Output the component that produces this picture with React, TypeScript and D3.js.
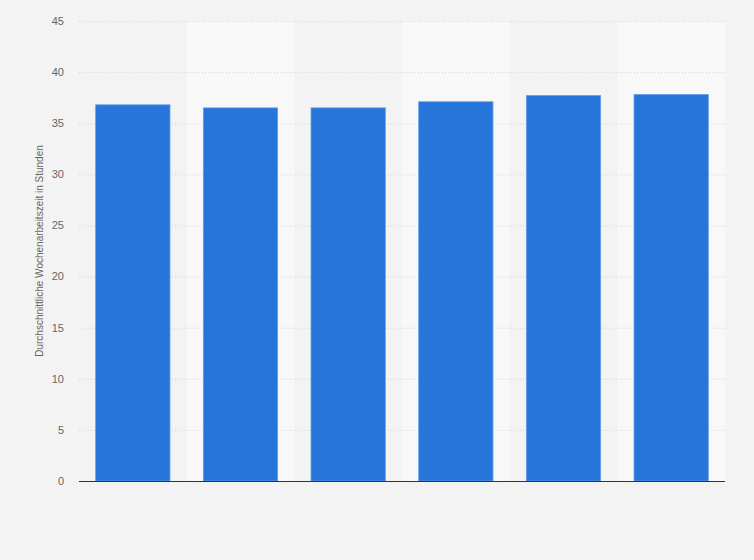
import * as d3 from 'd3';

// values (no category labels shown in the reference)
const categories = ['A', 'B', 'C', 'D', 'E', 'F'];
const hours = [36.8, 36.5, 36.5, 37.1, 37.7, 37.8];
const yTicks = [0, 5, 10, 15, 20, 25, 30, 35, 40, 45];
const yLabel = 'Durchschnittliche Wochenarbeitszeit in Stunden';

const width = 754;
const height = 560;
const margin = { top: 21, right: 29, bottom: 79, left: 79 };

export default function App(): JSX.Element {
  const x = d3.scaleBand<string>()
    .domain(categories)
    .range([margin.left, width - margin.right])
    .paddingInner(0.31)
    .paddingOuter(0.155);

  // bands without padding, for the alternating background stripes
  const stripes = d3.scaleBand<string>()
    .domain(categories)
    .range([margin.left, width - margin.right]);

  const y = d3.scaleLinear()
    .domain([0, 45])
    .range([height - margin.bottom, margin.top]);

  return (
    <div style={{ position: 'absolute', left: 0, top: 0 }}>
      <svg width={width} height={height} style={{ display: 'block', fontFamily: '"Liberation Sans", Arial, sans-serif' }}>
        <rect width={width} height={height} fill="#f3f3f3" />

        {categories.map((c, i) => i % 2 === 1 && (
          <rect
            key={'s' + c}
            x={stripes(c)}
            y={margin.top}
            width={stripes.bandwidth()}
            height={height - margin.bottom - margin.top}
            fill="#f8f8f8"
          />
        ))}

        <g className="grid">
          {yTicks.filter(t => t > 0).map(t => (
            <line
              key={t}
              x1={margin.left}
              x2={width - margin.right}
              y1={y(t) + 0.5}
              y2={y(t) + 0.5}
              stroke="#d4d4d4"
              strokeDasharray="1,2"
            />
          ))}
        </g>

        <g className="y-axis">
          {yTicks.map(t => (
            <text
              key={t}
              x={64}
              y={y(t)}
              dy="0.35em"
              textAnchor="end"
              fontSize={11}
              fill="#666"
            >
              {t}
            </text>
          ))}
          <text
            transform={`translate(43,${(margin.top + height - margin.bottom) / 2}) rotate(-90)`}
            textAnchor="middle"
            fontSize={10}
            fill="#666"
          >
            {yLabel}
          </text>
        </g>

        <g className="bars">
          {categories.map((c, i) => (
            <rect
              key={c}
              x={x(c)}
              y={y(hours[i])}
              width={x.bandwidth()}
              height={y(0) - y(hours[i])}
              fill="#2775db"
              stroke="#5d9cee"
              strokeWidth={0.8}
            />
          ))}
        </g>

        <line
          x1={margin.left}
          x2={width - margin.right}
          y1={y(0) + 0.5}
          y2={y(0) + 0.5}
          stroke="#333"
          strokeWidth={1}
        />
      </svg>
    </div>
  );
}
